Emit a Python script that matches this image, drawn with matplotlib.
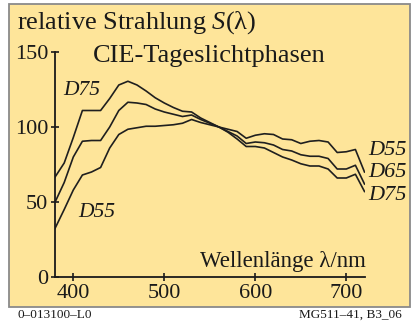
import matplotlib
matplotlib.use("Agg")
import matplotlib.pyplot as plt
from matplotlib.patches import Rectangle

plt.rcParams['font.family'] = ['Liberation Serif', 'DejaVu Serif']
plt.rcParams['mathtext.fontset'] = 'custom'
plt.rcParams['mathtext.rm'] = 'Liberation Serif'
plt.rcParams['mathtext.it'] = 'Liberation Serif:italic'

wavelength = [380, 390, 400, 410, 420, 430, 440, 450, 460, 470, 480, 490, 500,
              510, 520, 530, 540, 550, 560, 570, 580, 590, 600, 610, 620, 630,
              640, 650, 660, 670, 680, 690, 700, 710, 720]
d55 = [32.5, 45, 58, 68, 70, 73, 86, 95, 98.5, 99.5, 100.5, 100.5, 101,
       101.5, 102.5, 105, 103, 101.5, 100, 98.5, 97, 92.5, 94.5, 95.5, 95, 92,
       91.5, 89, 90.5, 91, 90, 83, 83.5, 85, 70]
d65 = [50, 63, 80, 90.5, 91, 91, 100, 111, 116.5, 116, 115, 112, 110,
       108.5, 107, 108, 105, 102.5, 100, 97, 94, 89, 90, 89.5, 88, 85,
       84, 81.5, 80.5, 80.5, 79, 72, 72, 74.5, 62]
d75 = [66.7, 76, 93, 111, 111, 111, 119, 128, 130.5, 128, 124, 119.5, 116,
       113, 110.5, 110, 106, 103, 100, 96.5, 92, 87, 87, 86, 83, 80,
       78, 75.5, 74, 74, 72, 66, 66, 68.5, 57]
xticks = [400, 500, 600, 700]
yticks = [0, 50, 100, 150]

W, H = 413, 332
fig = plt.figure(figsize=(W / 100, H / 100), dpi=100)
fig.patch.set_facecolor('white')

def fx(px):
    return px / W

def fy(py):
    return 1 - py / H

panel = Rectangle((fx(9), fy(307)), fx(410) - fx(9), fy(4) - fy(307),
                  transform=fig.transFigure, facecolor='#FEE59A',
                  edgecolor='#8a8a8a', linewidth=1.3, zorder=-10)
fig.patches.append(panel)

ax = fig.add_axes([fx(55.1), fy(277), fx(364.5) - fx(55.1), fy(52) - fy(277)])
ax.set_zorder(5)
ax.patch.set_alpha(0)
for s in ['top', 'right']:
    ax.spines[s].set_visible(False)
for s in ['left', 'bottom']:
    ax.spines[s].set_linewidth(1.3)
    ax.spines[s].set_color('#1a1a1a')

lc = '#1f1f1f'
for series in (d55, d65, d75):
    ax.plot(wavelength, series, color=lc, lw=1.2, solid_joinstyle='round')

ax.set_xlim(380, 720)
ax.set_ylim(0, 150)
ax.set_xticks(xticks)
ax.set_yticks(yticks)
ax.tick_params(direction='inout', length=6, width=1.2, color='#1a1a1a',
               labelsize=16, labelcolor='#1a1a1a')
ax.tick_params(axis='y', pad=2)
ax.tick_params(axis='x', pad=2)

tc = '#1a1a1a'
fig.text(fx(17), fy(29), r'relative Strahlung $\mathit{S}$(λ)', fontsize=19,
         color=tc, va='baseline', ha='left')
fig.text(fx(93), fy(62), 'CIE-Tageslichtphasen', fontsize=19,
         color=tc, va='baseline', ha='left')
fig.text(fx(63), fy(95), 'D75', fontsize=15.5, style='italic',
         color=tc, va='baseline', ha='left')
fig.text(fx(78), fy(217), 'D55', fontsize=15.5, style='italic',
         color=tc, va='baseline', ha='left')
fig.text(fx(368), fy(155), 'D55', fontsize=16, style='italic',
         color=tc, va='baseline', ha='left')
fig.text(fx(368), fy(177), 'D65', fontsize=16, style='italic',
         color=tc, va='baseline', ha='left')
fig.text(fx(368), fy(200), 'D75', fontsize=16, style='italic',
         color=tc, va='baseline', ha='left')
fig.text(fx(366), fy(267), 'Wellenlänge λ/nm', fontsize=16.5,
         color=tc, va='baseline', ha='right')
fig.text(fx(17), fy(318), '0–013100–L0', fontsize=9.5,
         color=tc, va='baseline', ha='left')
fig.text(fx(402), fy(318), 'MG511–41, B3_06', fontsize=9.5,
         color=tc, va='baseline', ha='right')

fig.savefig('out.png', dpi=100)
